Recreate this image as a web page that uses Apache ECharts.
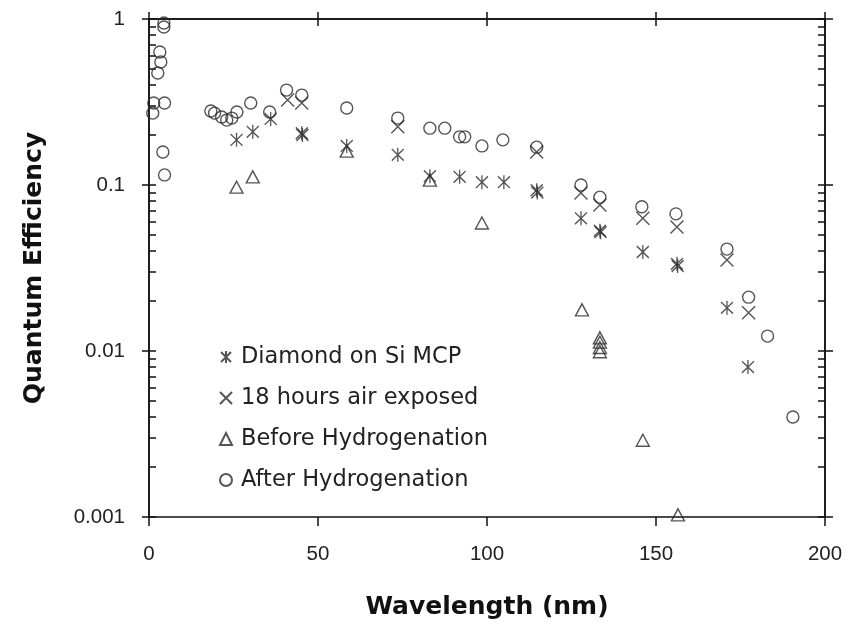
<!DOCTYPE html>
<html><head><meta charset="utf-8">
<script src="https://cdn.jsdelivr.net/npm/echarts@6/dist/echarts.min.js"></script>
<style>html,body{margin:0;padding:0;background:#fff}#c{width:862px;height:636px}</style>
</head><body><div id="c"></div>
<script>
// ---- data ----
const seriesNames = ['Diamond on Si MCP', '18 hours air exposed', 'Before Hydrogenation', 'After Hydrogenation'];
const xTickValues = [0, 50, 100, 150, 200];
const yTickLabels = ['0.001', '0.01', '0.1', '1'];

const diamondX = [25.9, 30.7, 36, 45.2, 45.4, 58.5, 73.6, 83.1, 91.9, 98.5, 105, 114.7, 114.9, 127.8, 133.4, 133.6, 146.1, 156.2, 156.4, 171, 177.2];
const diamondY = [0.187, 0.209, 0.25, 0.205, 0.2, 0.172, 0.152, 0.113, 0.112, 0.104, 0.104, 0.093, 0.09, 0.063, 0.053, 0.052, 0.0395, 0.0335, 0.0325, 0.0182, 0.008];

const airX = [41, 45.2, 73.6, 114.7, 127.8, 133.4, 146.1, 156.2, 171, 177.4];
const airY = [0.325, 0.312, 0.224, 0.158, 0.0895, 0.0758, 0.063, 0.0558, 0.0353, 0.017];

const beforeX = [25.9, 30.7, 58.5, 83.1, 98.5, 128.1, 133.4, 133.4, 133.4, 133.4, 146.1, 156.5];
const beforeY = [0.097, 0.112, 0.16, 0.107, 0.059, 0.0177, 0.012, 0.0113, 0.0105, 0.0099, 0.0029, 0.00103];

const afterX = [4.4, 4.4, 3.2, 3.5, 2.6, 4.6, 1.4, 1.1, 4.1, 4.6, 18.3, 19.4, 21.5, 23, 24.5, 26, 30.1, 35.7, 40.7, 45.2, 58.5, 73.6, 83.1, 87.5, 91.9, 93.4, 98.5, 104.7, 114.7, 127.8, 133.4, 145.8, 155.9, 171, 177.4, 183, 190.5];
const afterY = [0.946, 0.895, 0.633, 0.551, 0.473, 0.312, 0.312, 0.271, 0.158, 0.115, 0.279, 0.271, 0.257, 0.246, 0.253, 0.275, 0.312, 0.275, 0.373, 0.348, 0.291, 0.253, 0.22, 0.22, 0.195, 0.195, 0.172, 0.187, 0.169, 0.1, 0.0845, 0.0739, 0.067, 0.0411, 0.0211, 0.0123, 0.004];

// ---- helpers ----
const zip = (xs, ys) => xs.map((x, i) => [x, ys[i]]);
const allLogTicks = [];
[0.001, 0.01, 0.1].forEach(d => { for (let k = 1; k <= 9; k++) allLogTicks.push(Number((k * d).toPrecision(3))); });
allLogTicks.push(1);

const FONT = '"Liberation Sans", Arial, sans-serif';
const WIDE = '"DejaVu Sans", "Liberation Sans", sans-serif';
const INK = '#222';
const MARK = '#2b2b2b';
const lineStyle = { color: '#111', width: 1.5 };

const SYM_X = 'path://M0,0L10,10M10,0L0,10';
const SYM_AST = 'path://M0,1L10,11M10,1L0,11M5,0L5,12';

function logAxis(extra) {
  return Object.assign({
    type: 'log', logBase: 10, min: 0.001, max: 1, gridIndex: 0,
    axisLine: { show: true, onZero: false, lineStyle },
    splitLine: { show: false }, minorTick: { show: false },
    axisLabel: { show: false }
  }, extra);
}
function linAxis(extra) {
  return Object.assign({
    type: 'value', min: xTickValues[0], max: xTickValues[xTickValues.length - 1],
    interval: xTickValues[1] - xTickValues[0], gridIndex: 0,
    axisLine: { show: true, onZero: false, lineStyle },
    splitLine: { show: false },
    axisLabel: { show: false }
  }, extra);
}

const markerStyle = { color: 'rgba(0,0,0,0)', borderColor: MARK, borderWidth: 1.4 };

const option = {
  animation: false,
  backgroundColor: '#fff',
  textStyle: { fontFamily: FONT },
  grid: { left: 149, right: 37, top: 19, bottom: 119, containLabel: false },
  legend: {
    orient: 'vertical', left: 214, top: 340,
    itemWidth: 12, itemHeight: 12, itemGap: 17,
    textStyle: { fontSize: 22.5, color: INK, fontFamily: WIDE, lineHeight: 24, padding: [0, 0, 0, 4] },
    data: seriesNames
  },
  xAxis: [
    linAxis({
      position: 'bottom',
      axisTick: { show: true, inside: false, length: 9, lineStyle },
      axisLabel: { show: true, fontSize: 20.5, color: INK, margin: 27, fontFamily: FONT },
      name: 'Wavelength (nm)', nameLocation: 'middle', nameGap: 78,
      nameTextStyle: { fontSize: 25, fontWeight: 'bold', color: '#111', fontFamily: WIDE }
    }),
    linAxis({ position: 'top', axisTick: { show: true, inside: false, length: 7, lineStyle } }),
    linAxis({ position: 'top', axisTick: { show: true, inside: true, length: 7, lineStyle } })
  ],
  yAxis: [
    logAxis({
      position: 'left',
      axisTick: { show: true, inside: false, length: 7, lineStyle },
      axisLabel: {
        show: true, fontSize: 20.5, color: INK, margin: 24, fontFamily: FONT,
        formatter: v => yTickLabels[Math.round(Math.log10(v)) + 3]
      },
      name: 'Quantum Efficiency', nameLocation: 'middle', nameGap: 102,
      nameTextStyle: { fontSize: 25, fontWeight: 'bold', color: '#111', fontFamily: WIDE }
    }),
    logAxis({ position: 'left', axisTick: { show: true, inside: true, length: 7, lineStyle, customValues: allLogTicks } }),
    logAxis({ position: 'right', axisTick: { show: true, inside: false, length: 8, lineStyle } }),
    logAxis({ position: 'right', axisTick: { show: true, inside: true, length: 7, lineStyle, customValues: allLogTicks } })
  ],
  series: [
    { name: seriesNames[0], type: 'scatter', clip: false, xAxisIndex: 0, yAxisIndex: 0,
      symbol: SYM_AST, symbolSize: [12, 14], itemStyle: markerStyle, data: zip(diamondX, diamondY) },
    { name: seriesNames[1], type: 'scatter', clip: false, xAxisIndex: 0, yAxisIndex: 0,
      symbol: SYM_X, symbolSize: 13, itemStyle: markerStyle, data: zip(airX, airY) },
    { name: seriesNames[2], type: 'scatter', clip: false, xAxisIndex: 0, yAxisIndex: 0,
      symbol: 'triangle', symbolSize: [13, 12], itemStyle: markerStyle, data: zip(beforeX, beforeY) },
    { name: seriesNames[3], type: 'scatter', clip: false, xAxisIndex: 0, yAxisIndex: 0,
      symbol: 'circle', symbolSize: 12, itemStyle: markerStyle, data: zip(afterX, afterY) }
  ]
};

const chart = echarts.init(document.getElementById('c'), null, { renderer: 'canvas' });
chart.setOption(option);
</script>
</body></html>
